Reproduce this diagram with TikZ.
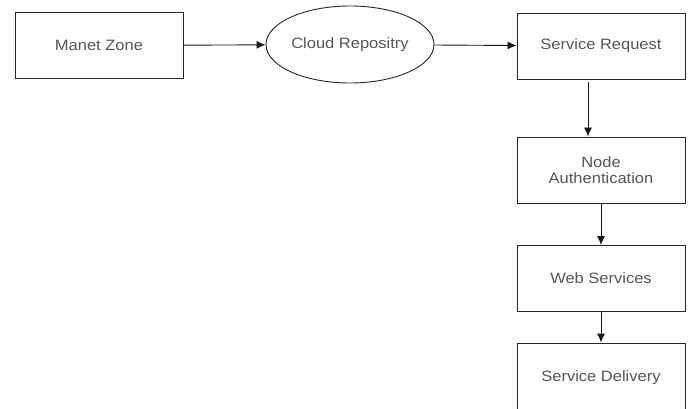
\documentclass[tikz,border=0pt]{standalone}
\usepackage{fontspec}
\setmainfont{Liberation Sans}[FakeStretch=1.1]
\usetikzlibrary{shapes.geometric,arrows.meta}
\definecolor{labelgray}{RGB}{85,85,85}
\tikzset{
  box/.style      = {draw=black!85, line width=0.9pt, rectangle,
                     minimum width=168pt, minimum height=66pt,
                     inner sep=0pt, align=center, text=labelgray,
                     font=\fontsize{15}{16.5}\selectfont},
  cloudnode/.style = {box, ellipse, minimum height=77pt},
  flow/.style     = {-{Latex[length=9pt,width=8pt]}, line width=0.9pt, draw=black!90}
}
\begin{document}
\begin{tikzpicture}[x=1pt,y=-1pt]
	\useasboundingbox (0,0) rectangle (689,409);
	\node[box]       (manet) at (99,45.5)  {Manet Zone};
	\node[cloudnode] (cloud) at (350,44.5) {\raisebox{-2pt}{Cloud Repositry}};
	\node[box]       (req)   at (601,46)   {Service Request};
	\node[box]       (auth)  at (601,170)  {Node\\Authentication};
	\node[box]       (web)   at (601,278.5) {Web Services};
	\node[box, minimum height=70pt] (deliv) at (601,378) {Service Delivery};
	% links
	\draw[flow] (manet) -- (cloud);
	\draw[flow] (cloud) -- (req);
	\draw[flow] ([xshift=-13pt,yshift=-3pt]req.south) -- ([xshift=-13pt]auth.north);
	\draw[flow] (auth) -- (web);
	\draw[flow] (web) -- (deliv);
\end{tikzpicture}
\end{document}
